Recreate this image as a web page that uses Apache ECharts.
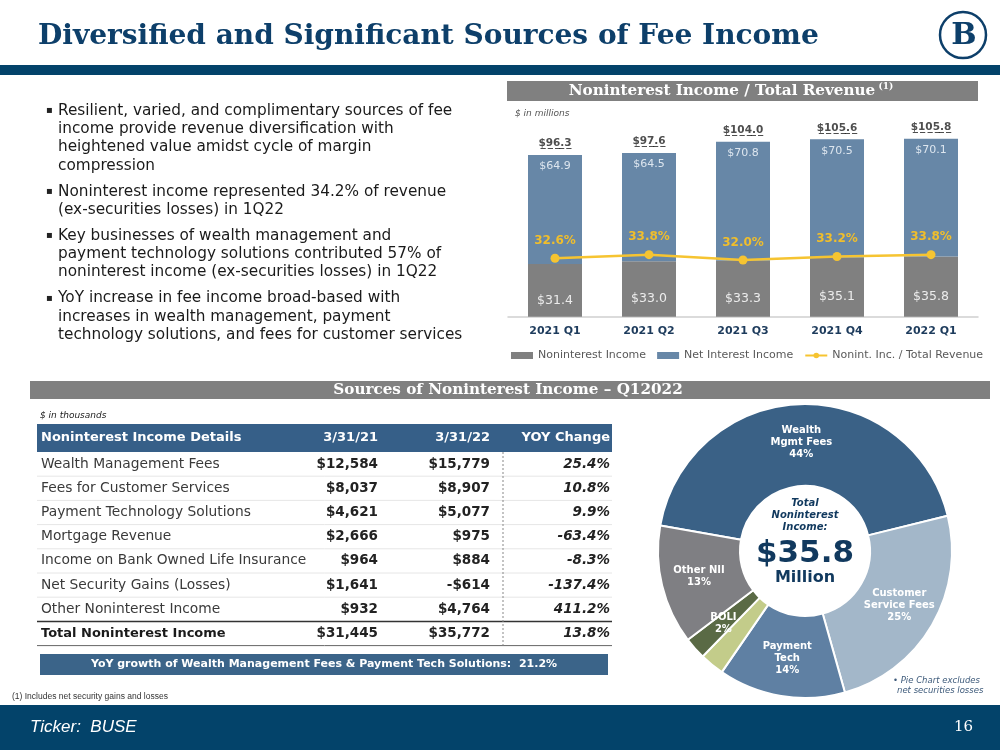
<!DOCTYPE html>
<html><head><meta charset="utf-8">
<script src="https://cdn.jsdelivr.net/npm/echarts@6/dist/echarts.min.js"></script>
<style>html,body{margin:0;padding:0;background:#fff}#c{width:1000px;height:750px}</style>
</head><body><div id="c"></div>
<script>
// ---- data ----
const quarters = ['2021 Q1', '2021 Q2', '2021 Q3', '2021 Q4', '2022 Q1'];
const nonintIncome = [31.4, 33.0, 33.3, 35.1, 35.8];
const netInterestIncome = [64.9, 64.5, 70.8, 70.5, 70.1];
const totalRevenue = [96.3, 97.6, 104.0, 105.6, 105.8];
const nonintRatio = [32.6, 33.8, 32.0, 33.2, 33.8];

const tableHeader = ['Noninterest Income Details', '3/31/21', '3/31/22', 'YOY Change'];
const tableRows = ['Wealth Management Fees', 'Fees for Customer Services', 'Payment Technology Solutions',
  'Mortgage Revenue', 'Income on Bank Owned Life Insurance', 'Net Security Gains (Losses)',
  'Other Noninterest Income', 'Total Noninterest Income'];
const q1_2021 = ['$12,584', '$8,037', '$4,621', '$2,666', '$964', '$1,641', '$932', '$31,445'];
const q1_2022 = ['$15,779', '$8,907', '$5,077', '$975', '$884', '-$614', '$4,764', '$35,772'];
const yoyChange = ['25.4%', '10.8%', '9.9%', '-63.4%', '-8.3%', '-137.4%', '411.2%', '13.8%'];

const pieNames = ['Wealth\nMgmt Fees', 'Customer\nService Fees', 'Payment\nTech', 'Mortgage\nRev.', 'BOLI', 'Other NII'];
const pieValues = [15779, 8907, 5077, 975, 884, 4764];
const pieShares = ['44%', '25%', '14%', '2%', '2%', '13%'];

const bullets = [
  ['Resilient, varied, and complimentary sources of fee', 'income provide revenue diversification with', 'heightened value amidst cycle of margin', 'compression'],
  ['Noninterest income represented 34.2% of revenue', '(ex-securities losses) in 1Q22'],
  ['Key businesses of wealth management and', 'payment technology solutions contributed 57% of', 'noninterest income (ex-securities losses) in 1Q22'],
  ['YoY increase in fee income broad-based with', 'increases in wealth management, payment', 'technology solutions, and fees for customer services']
];

// ---- styles ----
const NAVY = '#0d3f6a', BAND = '#03436a';
const SANS = '"DejaVu Sans", Verdana, sans-serif';
const SERIF = '"DejaVu Serif", Georgia, serif';

const g = [];
function T(x, y, text, font, fill, align, extra) {
  g.push(Object.assign({ type: 'text', silent: true, style: { x: x, y: y, text: text, font: font, fill: fill,
    textAlign: align || 'left', textVerticalAlign: 'middle' } }, extra || {}));
}
function R(x, y, w, h, fill) { g.push({ type: 'rect', silent: true, shape: { x: x, y: y, width: w, height: h }, style: { fill: fill } }); }
function L(x1, y1, x2, y2, stroke, w, dash) {
  g.push({ type: 'line', silent: true, shape: { x1: x1, y1: y1, x2: x2, y2: y2 }, style: { stroke: stroke, lineWidth: w, lineDash: dash || null } });
}
function underline(s) { return s.split('').map(c => c + '\u0332').join(''); }

// Title & band
T(38, 37, 'Diversified and Significant Sources of Fee Income', 'bold 28px ' + SERIF, NAVY);
R(0, 65, 1000, 10, BAND);
// logo
g.push({ type: 'circle', silent: true, shape: { cx: 963, cy: 35, r: 23 }, style: { fill: '#fff', stroke: NAVY, lineWidth: 2.5 } });
T(964, 36, 'B', 'bold 30px ' + SERIF, NAVY, 'center');

// Chart header bar
R(507, 81, 471, 20, '#808080');
g.push({ type: 'text', silent: true, style: { x: 731, y: 91, textAlign: 'center', textVerticalAlign: 'middle',
  text: '{a|Noninterest Income / Total Revenue} {s|(1)}',
  rich: { a: { font: 'bold 15.2px ' + SERIF, fill: '#fff' }, s: { font: 'bold 9px ' + SERIF, fill: '#fff', verticalAlign: 'top', padding: [0, 0, 8, 0] } } } });
T(515, 114, '$ in millions', 'italic 9px ' + SANS, '#555');

// Bullets
let by = 110.7;
bullets.forEach((p, pi) => {
  T(46, by, '\u25AA', '10px ' + SANS, '#222');
  p.forEach((ln, li) => { T(58, by, ln, '15.3px ' + SANS, '#1a1a1a'); by += 18.3; });
  by += 7.7;
});

// Section 2 header
R(30, 381, 960, 18, '#808080');
T(508, 390.5, 'Sources of Noninterest Income \u2013 Q12022', 'bold 15.2px ' + SERIF, '#fff', 'center');
T(40, 416, '$ in thousands', 'italic 9px ' + SANS, '#222');

// Table
R(37, 424, 575, 28, '#365f88');
T(41, 438, tableHeader[0], 'bold 13px ' + SANS, '#fff');
T(378, 438, tableHeader[1], 'bold 13px ' + SANS, '#fff', 'right');
T(490, 438, tableHeader[2], 'bold 13px ' + SANS, '#fff', 'right');
T(610, 438, tableHeader[3], 'bold 13px ' + SANS, '#fff', 'right');
const rowH = 24.2, top0 = 452;
tableRows.forEach((name, i) => {
  const cy = top0 + rowH / 2 + i * rowH;
  const isTotal = i === tableRows.length - 1;
  T(41, cy, name, (isTotal ? 'bold 13px ' : '13.8px ') + SANS, isTotal ? '#1a1a1a' : '#3a3a3a');
  T(378, cy, q1_2021[i], 'bold 13.5px ' + SANS, '#222', 'right');
  T(490, cy, q1_2022[i], 'bold 13.5px ' + SANS, '#222', 'right');
  T(610, cy, yoyChange[i], 'italic bold 13.5px ' + SANS, '#222', 'right');
  if (i > 0 && !isTotal) L(37, top0 + i * rowH, 612, top0 + i * rowH, '#e6e6e6', 1);
});
L(37, top0 + 7 * rowH, 612, top0 + 7 * rowH, '#333', 1.5);
L(37, top0 + 8 * rowH, 612, top0 + 8 * rowH, '#666', 1);
L(503, top0, 503, top0 + 8 * rowH, '#888', 1, [2, 2]);

R(40, 654, 568, 21, '#3b6489');
T(324, 664.5, 'YoY growth of Wealth Management Fees & Payment Tech Solutions:  21.2%', 'bold 11px ' + SANS, '#fff', 'center');

// Footnote & footer
T(12, 697, '(1) Includes net security gains and losses', '8.5px "Liberation Sans", Arial, sans-serif', '#333');
R(0, 705, 1000, 45, BAND);
T(30, 727, 'Ticker:  BUSE', 'italic 17px "Liberation Sans", Arial, sans-serif', '#fff');
T(973, 727, '16', '15px ' + SERIF, '#fff', 'right');

// Pie centre texts & note
const PN = '#11395e';
T(805, 503, 'Total', 'italic bold 10px ' + SANS, PN, 'center');
T(805, 515.5, 'Noninterest', 'italic bold 10px ' + SANS, PN, 'center');
T(805, 527.5, 'Income:', 'italic bold 10px ' + SANS, PN, 'center');
T(805, 554, '$35.8', 'bold 31px ' + SANS, PN, 'center');
T(805, 578, 'Million', 'bold 16px ' + SANS, PN, 'center');
T(893, 681, '\u2022 Pie Chart excludes', 'italic 8.5px ' + SANS, '#3d5a7a');
T(897, 691, 'net securities losses', 'italic 8.5px ' + SANS, '#3d5a7a');

const chart = echarts.init(document.getElementById('c'), null, { renderer: 'canvas' });
chart.setOption({
  animation: false,
  textStyle: { fontFamily: SANS },
  grid: { left: 508, right: 22, top: 115.1, bottom: 433.3 },
  legend: {
    left: 511, top: 350, padding: 0, itemWidth: 22, itemHeight: 7, itemGap: 11,
    textStyle: { fontSize: 11, color: '#595959', fontFamily: SANS },
    data: [{ name: 'Noninterest Income', icon: 'rect' }, { name: 'Net Interest Income', icon: 'rect' }, { name: 'Nonint. Inc. / Total Revenue' }]
  },
  xAxis: {
    type: 'category', data: quarters,
    axisLine: { lineStyle: { color: '#cfcfcf', width: 1.5 } },
    axisTick: { show: false },
    axisLabel: { fontSize: 11, fontWeight: 'bold', color: '#1d3b5c', margin: 9, fontFamily: SANS }
  },
  yAxis: [
    { type: 'value', min: 0, max: 120, show: false, splitLine: { show: false } },
    { type: 'value', min: 12.7, max: 81.3, show: false, splitLine: { show: false } }
  ],
  series: [
    { name: 'Noninterest Income', type: 'bar', stack: 'rev', data: nonintIncome, barWidth: 54,
      itemStyle: { color: '#808080' },
      label: { show: true, position: 'inside', offset: [0, 10], color: '#ececec', fontSize: 12.5, formatter: p => '$' + p.value.toFixed(1) } },
    { name: 'Net Interest Income', type: 'bar', stack: 'rev', data: netInterestIncome, barWidth: 54,
      itemStyle: { color: '#6787a7' },
      label: { show: true, position: 'insideTop', distance: 6, color: '#dde6ef', fontSize: 11, formatter: p => '$' + p.value.toFixed(1) } },
    { name: 'Total', type: 'scatter', data: totalRevenue, symbolSize: 0.01, silent: true,
      label: { show: true, position: 'top', distance: 6, fontSize: 10.5, fontWeight: 'bold', color: '#222',
        formatter: p => underline('$' + p.value.toFixed(1)) } },
    { name: 'Nonint. Inc. / Total Revenue', type: 'line', yAxisIndex: 1, data: nonintRatio,
      lineStyle: { color: '#f6c431', width: 2.5 }, itemStyle: { color: '#f6c431' },
      symbol: 'circle', symbolSize: 9,
      label: { show: true, position: 'top', distance: 7, color: '#f0be2c', fontWeight: 'bold', fontSize: 12, formatter: p => p.value.toFixed(1) + '%' } },
    { name: 'Sources', type: 'pie', center: [805, 551], radius: [65, 147], startAngle: 170, clockwise: true,
      silent: true, avoidLabelOverlap: false,
      itemStyle: { borderColor: '#fff', borderWidth: 2 },
      label: { show: true, position: 'inside', color: '#fff', fontSize: 10, fontWeight: 'bold', lineHeight: 12, fontFamily: SANS,
        formatter: p => p.name + '\n' + pieShares[p.dataIndex] },
      labelLine: { show: false },
      data: pieValues.map((v, i) => ({ name: pieNames[i], value: v,
        itemStyle: { color: ['#3a6186', '#a3b7c9', '#5f80a3', '#c3cc8a', '#5a6a45', '#7f7f83'][i] } }))
    }
  ],
  graphic: g
});
</script></body></html>
